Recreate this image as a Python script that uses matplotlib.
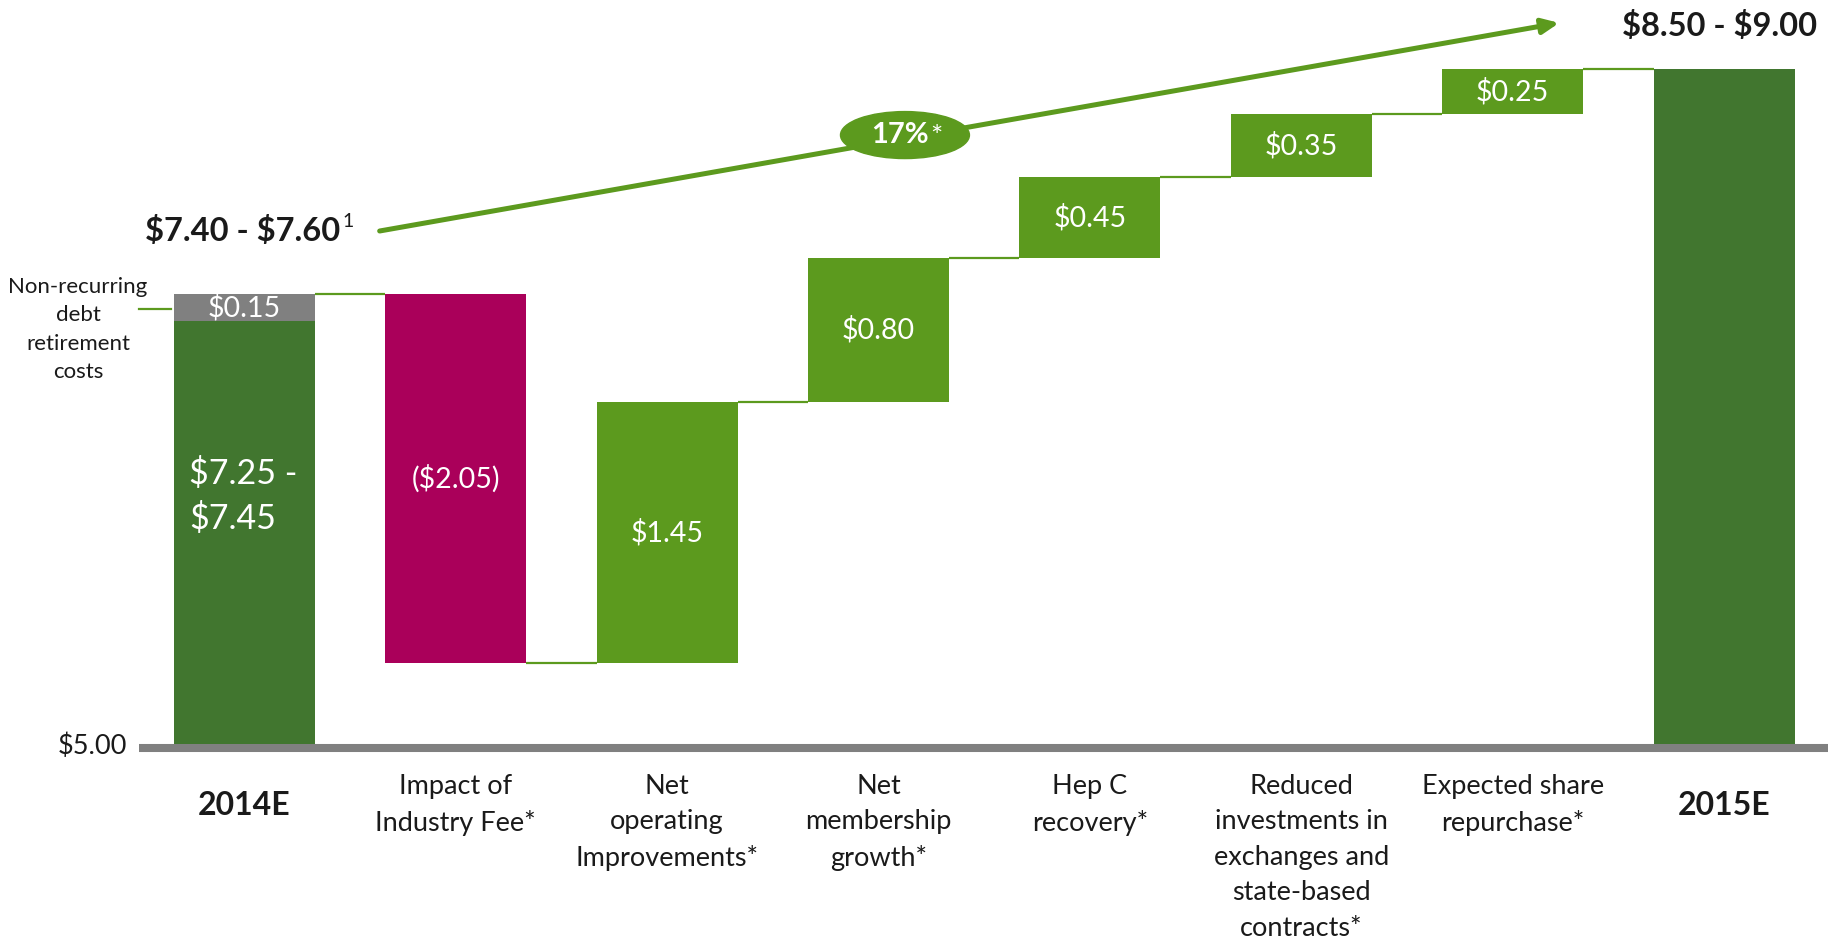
import matplotlib
matplotlib.use("Agg")
import matplotlib.pyplot as plt
from matplotlib.patches import Ellipse

plt.rcParams['font.family'] = ['Lato', 'DejaVu Sans']
plt.rcParams['text.parse_math'] = False

# ---- data ----
categories = ["2014E", "Impact of\nIndustry Fee*", "Net\noperating\nImprovements*",
              "Net\nmembership\ngrowth*", "Hep C\nrecovery*",
              "Reduced\ninvestments in\nexchanges and\nstate-based\ncontracts*",
              "Expected share\nrepurchase*", "2015E"]
base_2014 = 7.35          # midpoint of $7.25 - $7.45
nonrecurring = 0.15
deltas = [-2.05, 1.45, 0.80, 0.45, 0.35, 0.25]
delta_labels = ["($2.05)", "$1.45", "$0.80", "$0.45", "$0.35", "$0.25"]
end_2015 = 8.75           # midpoint of $8.50 - $9.00
baseline = 5.00
growth_label = "17%"

DARK = "#41762F"
LIGHT = "#5C9A1E"
MAG = "#AA005A"
GRAY = "#808080"
TXT = "#1a1a1a"

fig = plt.figure(figsize=(18.41, 9.43), dpi=100)
ax = fig.add_axes([0, 0, 1, 1])
ax.set_xlim(-1.156, 7.553)
ax.set_ylim(baseline - 199 / 180, baseline + 744 / 180)
ax.axis('off')

w = 2 / 3
# 2014E
ax.bar(0, base_2014 - baseline, bottom=baseline, width=w, color=DARK, zorder=3)
ax.bar(0, nonrecurring, bottom=base_2014, width=w, color=GRAY, zorder=3)
ax.text(0, base_2014 + nonrecurring / 2, "$0.15", color="white", ha="center", va="center",
        fontsize=20.5, zorder=4)
ax.text(-0.26, 6.38, "$7.25 -\n$7.45", color="white", ha="left", va="center", fontsize=24.5,
        linespacing=1.45, zorder=4)

running = base_2014 + nonrecurring
levels = [running]
for i, (d, lab) in enumerate(zip(deltas, delta_labels), start=1):
    bottom = running + min(d, 0)
    col = MAG if d < 0 else LIGHT
    ax.bar(i, abs(d), bottom=bottom, width=w, color=col, zorder=3)
    ax.text(i, bottom + abs(d) / 2, lab, color="white", ha="center", va="center", fontsize=20.5, zorder=4)
    running += d
    levels.append(running)

# 2015E
ax.bar(7, end_2015 - baseline, bottom=baseline, width=w, color=DARK, zorder=3)

# connectors
for i, lv in enumerate(levels):
    ax.plot([i + w / 2, i + 1 - w / 2], [lv, lv], color=LIGHT, lw=1.6, zorder=2, solid_capstyle='butt')

# baseline axis
ax.plot([-0.5, 7.49], [baseline - 0.022, baseline - 0.022], color=GRAY, lw=5.8, solid_capstyle='butt', zorder=2)
ax.text(-0.555, baseline - 0.012, "$5.00", ha="right", va="center", fontsize=19.5, color=TXT)

# non-recurring annotation
ax.text(-0.787, 7.303, "Non-recurring\ndebt\nretirement\ncosts", ha="center", va="center",
        fontsize=16, linespacing=1.52, color=TXT)
ax.plot([-0.497, -0.346], [base_2014 + nonrecurring / 2 - 0.01] * 2, color=LIGHT, lw=1.6)

# category labels
for i, c in enumerate(categories):
    if c in ("2014E", "2015E"):
        ax.text(i, 4.661, c, ha="center", va="center", fontsize=23, fontweight="bold", color=TXT)
    else:
        ax.text(i, 4.835, c, ha="center", va="top", fontsize=19.5, linespacing=1.53, color=TXT)

# top range labels
ax.text(0.455, 7.85, "$7.40 - $7.60", ha="right", va="center", fontsize=23.5, fontweight="bold", color=TXT)
ax.text(0.465, 7.905, "1", ha="left", va="center", fontsize=14, color=TXT)
ax.text(6.98, 8.99, "$8.50 - $9.00", ha="center", va="center", fontsize=23.5, fontweight="bold", color=TXT)

# growth arrow
ax.annotate("", xy=(6.22, 9.006), xytext=(0.64, 7.85),
            arrowprops=dict(arrowstyle="-|>,head_length=1.0,head_width=0.45", color=LIGHT, lw=3.6,
                            shrinkA=0, shrinkB=0), zorder=5)
ax.add_patch(Ellipse((3.125, 8.383), 0.61, 0.261, color=LIGHT, zorder=6))
t = ax.text(3.10, 8.383, growth_label, ha="center", va="center", fontsize=21, fontweight="bold",
            color="white", zorder=7)
ax.annotate("*", xycoords=t, xy=(1, 0.5), xytext=(1, -2), textcoords="offset points",
            ha="left", va="center", fontsize=21, color="white", zorder=7)

fig.savefig("out.png", dpi=100)
